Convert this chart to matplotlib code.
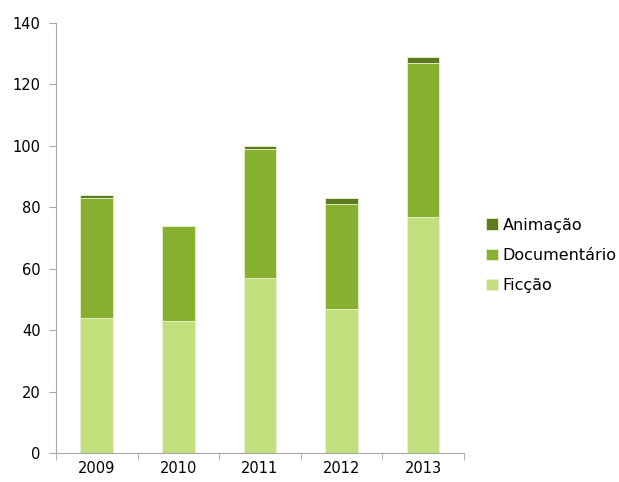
import numpy as np
import matplotlib
matplotlib.use("Agg")
import matplotlib.pyplot as plt

years = ["2009", "2010", "2011", "2012", "2013"]
ficcao = [44, 43, 57, 47, 77]
documentario = [39, 31, 42, 34, 50]
animacao = [1, 0, 1, 2, 2]

colors = {"Ficção": "#C2DF7E", "Documentário": "#86B02E", "Animação": "#5A7B1E"}

fig = plt.figure(figsize=(6.19, 4.82), dpi=100)
ax = fig.add_axes([0.0905, 0.0602, 0.659, 0.892])

x = np.arange(len(years))
w = 0.4
bottom = np.zeros(len(years))
handles = []
for name, vals in [("Ficção", ficcao), ("Documentário", documentario),
                   ("Animação", animacao)]:
    b = ax.bar(x, vals, w, bottom=bottom, color=colors[name],
               edgecolor="#E8F2D4", linewidth=0.6, label=name)
    bottom += np.array(vals)
    handles.append(b)

ax.set_xlim(-0.5, len(years) - 0.5)
ax.set_ylim(0, 140)
ax.set_yticks(range(0, 141, 20))
ax.set_xticks(x)
ax.set_xticklabels(years, fontsize=10.5)
ax.set_xticks(np.arange(-0.5, len(years)), minor=True)
ax.tick_params(axis="x", which="major", length=0, pad=6)
ax.tick_params(axis="x", which="minor", length=5, color="#A6A6A6")
ax.tick_params(axis="y", length=5, color="#A6A6A6", labelsize=10.5, pad=6)
for s in ["top", "right"]:
    ax.spines[s].set_visible(False)
for s in ["left", "bottom"]:
    ax.spines[s].set_color("#A6A6A6")

ax.legend(handles[::-1], ["Animação", "Documentário", "Ficção"],
          loc="center left", bbox_to_anchor=(1.02, 0.46), frameon=False,
          fontsize=11.5, handlelength=0.7, handleheight=0.7,
          handletextpad=0.3, labelspacing=0.95)

fig.savefig("out.png", dpi=100)
